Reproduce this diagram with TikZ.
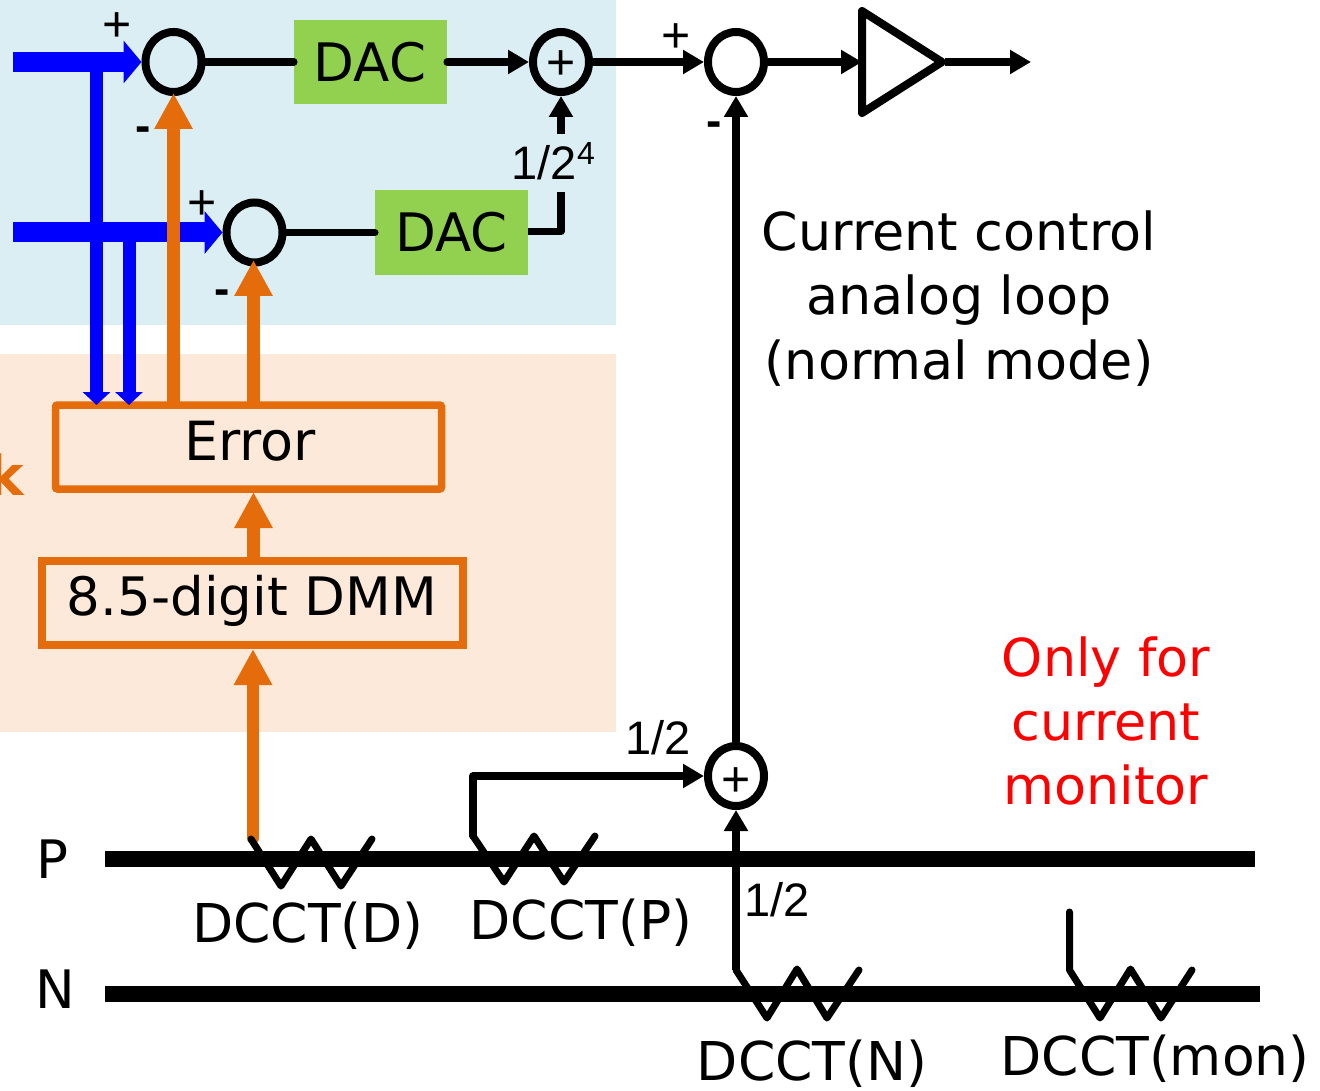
\documentclass[tikz,border=0pt]{standalone}
\usepackage{fontspec}
\setmainfont{DejaVu Sans}
\newfontfamily\arialf{Liberation Sans}
\usetikzlibrary{arrows.meta,shapes.geometric}
\definecolor{bgblue}{HTML}{DBEEF4}
\definecolor{bgorange}{HTML}{FDE9D9}
\definecolor{dacgreen}{HTML}{92D050}
\definecolor{oline}{HTML}{E46C0A}
\definecolor{bline}{HTML}{0000FF}
\tikzset{
  x=1pt,y=-1pt,
  sumnode/.style={ellipse,draw=black,line width=8pt,minimum width=56pt,minimum height=60pt,inner sep=0pt,outer sep=4pt},
  dacbox/.style={fill=dacgreen,minimum width=153pt,minimum height=84.5pt,inner sep=0pt},
  txt/.style={inner sep=0pt,anchor=base,font=\fontsize{53}{53}\selectfont},
  num/.style={inner sep=0pt,font=\arialf\fontsize{47}{47}\selectfont},
  plussign/.style={inner sep=0pt,anchor=base,font=\arialf\fontsize{50}{50}\selectfont},
  minussign/.style={inner sep=0pt,anchor=base,font=\arialf\bfseries\fontsize{46}{46}\selectfont},
  redtxt/.style={txt,text=red},
  sig/.style={draw=black,line width=7.5pt,line join=round,line cap=round},
  bus/.style={draw=black,line width=16pt},
  coil/.style={draw=black,line width=7pt,line join=round,line cap=round},
  blackarr/.style={draw=black,line width=7.5pt,line join=round,-{Triangle[length=21pt,width=23pt]}},
  bluemain/.style={draw=bline,line width=20pt,-{Triangle[length=18pt,width=42pt]}},
  bluedown/.style={draw=bline,line width=13pt,-{Triangle[length=13pt,width=27pt]}},
  orangearr/.style={draw=oline,line width=12.5pt,-{Triangle[length=36pt,width=36pt]}},
  obox/.style={draw=oline,line width=7.5pt,inner sep=0pt,outer sep=0pt},
}
\begin{document}
\begin{tikzpicture}
\useasboundingbox (0,0) rectangle (1320,1091);
% backgrounds
\fill[bgblue] (0,0) rectangle (616,325);
\fill[bgorange] (0,354) rectangle (616,732);
% clipped side text
\node[anchor=base east,inner sep=0pt,text=oline,font=\bfseries\fontsize{55}{55}\selectfont] (cutk) at (24,495) {k};
\node[anchor=base east,inner sep=0pt,text=oline,font=\bfseries\fontsize{55}{55}\selectfont] (cutp) at (3,620) {)};
% buses
\node[coordinate] (pl) at (105,858.5) {};
\node[coordinate] (pr) at (1255,858.5) {};
\node[coordinate] (nl) at (105,994) {};
\node[coordinate] (nr) at (1260,994) {};
\draw[bus] (pl) -- (pr);
\draw[bus] (nl) -- (nr);
% nodes
\node[sumnode] (c1) at (173.5,62) {};
\node[sumnode] (c2) at (254.5,232.5) {};
\node[sumnode] (s1) at (561,62) {};
\node[sumnode] (c3) at (736,62) {};
\node[sumnode] (s2) at (736,776) {};
\node[dacbox] (d1) at (370.5,62) {};
\node[dacbox] (d2) at (451.5,232.5) {};
\node[txt] at (370,82) {DAC};
\node[txt] at (451.5,252) {DAC};
\node[plussign] at (561,80) {+};
\node[plussign] at (736,796) {+};
\draw[obox,rounded corners=2pt] (55.5,405) rectangle (441.5,489);
\node[inner sep=0pt,minimum width=386pt,minimum height=84pt] (err) at (248.5,447) {};
\node[txt,font=\fontsize{54}{54}\selectfont] at (250,460) {Error};
\draw[obox] (42,561) rectangle (463,645);
\node[inner sep=0pt,minimum width=421pt,minimum height=84pt] (dmm) at (252.5,603) {};
\node[txt] at (252,615) {8.5-digit DMM};
% amplifier
\coordinate (ampin) at (862,62);
\coordinate (ampout) at (945,62);
\draw[black,line width=8pt,line join=round] (862,11) -- (942,62) -- (862,113) -- cycle;
% blue inputs
\coordinate (b1) at (13,62);
\coordinate (b2) at (13,232.5);
\draw[bluemain] (b1) -- (c1.west);
\draw[bluemain] (b2) -- (c2.west);
\draw[bluedown] (96.5,62) -- (96.5,405);
\draw[bluedown] (129,232.5) -- (129,405);
% orange
\draw[orangearr] (173.5,405) -- (173.5,93);
\draw[orangearr] (253.5,405) -- (253.5,260);
\draw[orangearr] (253.5,561) -- (253.5,492);
\coordinate (dstart) at (253,838);
\draw[orangearr,line cap=round] (dstart) -- (253,649);
% top signal path
\draw[sig] (c1.east) -- (d1.west);
\draw[sig] (c2.east) -- (d2.west);
\draw[blackarr,line cap=round] (d1.east) -- (s1.west);
\draw[blackarr] (s1.east) -- (c3.west);
\draw[blackarr] (c3.east) -- (ampin);
\draw[blackarr] (ampout) -- (1031,62);
\coordinate (lo) at (561,134);
\coordinate (mid) at (561,192);
\draw[blackarr,line width=8pt] (lo) -- (s1.south);
\draw[draw=black,line width=7.5pt,line join=round] ([yshift=1pt]d2.east) -- (561,231.5) -- (mid);
% loop
\draw[blackarr] (s2.north) -- (c3.south);
% DCCT(D)
\draw[coil] (251,839) -- (281,886) -- (311,839) -- (341,886) -- (372,839);
% DCCT(P)
\coordinate (pc) at (473,836);
\draw[coil] (pc) -- (504,882) -- (534,836) -- (564,882) -- (595,836);
\draw[blackarr,line cap=round] (pc) -- (473,776) -- (s2.west);
% DCCT(N)
\coordinate (nc) at (736,970);
\draw[coil] (nc) -- (767,1018) -- (797,969) -- (827,1018) -- (859,970);
\draw[blackarr] (nc) -- (s2.south);
% DCCT(mon)
\coordinate (mc) at (1069.5,970);
\draw[coil] (1069.5,912) -- (mc) -- (1100,1018) -- (1130.5,969) -- (1161,1018) -- (1192,970);
% labels
\node[plussign] at (117,42) {+};
\node[minussign] at (143,142) {-};
\node[plussign] at (202,220) {+};
\node[minussign] at (222,305) {-};
\node[plussign] at (676,53) {+};
\node[minussign] at (714,137) {-};
\node[num,anchor=base west] at (511.5,180) {1/2\raisebox{15pt}{\fontsize{32}{32}\selectfont 4}};
\node[num] at (658,738) {1/2};
\node[num] at (777,900) {1/2};
\node[txt,font=\fontsize{52.3}{52.3}\selectfont] at (959,251) {Current control};
\node[txt,font=\fontsize{52.3}{52.3}\selectfont] at (959,315) {analog loop};
\node[txt,font=\fontsize{52.3}{52.3}\selectfont] at (959,379) {(normal mode)};
\node[redtxt,font=\fontsize{52.3}{52.3}\selectfont] at (1106,676) {Only for};
\node[redtxt,font=\fontsize{52.3}{52.3}\selectfont] at (1106,740) {current};
\node[redtxt,font=\fontsize{52.3}{52.3}\selectfont] at (1106,804) {monitor};
\node[txt] at (52,878) {P};
\node[txt] at (55,1008) {N};
\node[txt,font=\fontsize{53.5}{53.5}\selectfont] at (308,942) {DCCT(D)};
\node[txt,font=\fontsize{53.5}{53.5}\selectfont] at (581,939) {DCCT(P)};
\node[txt,font=\fontsize{53.5}{53.5}\selectfont] at (812,1080) {DCCT(N)};
\node[txt,font=\fontsize{53.5}{53.5}\selectfont] at (1155,1075) {DCCT(mon)};
\end{tikzpicture}
\end{document}
